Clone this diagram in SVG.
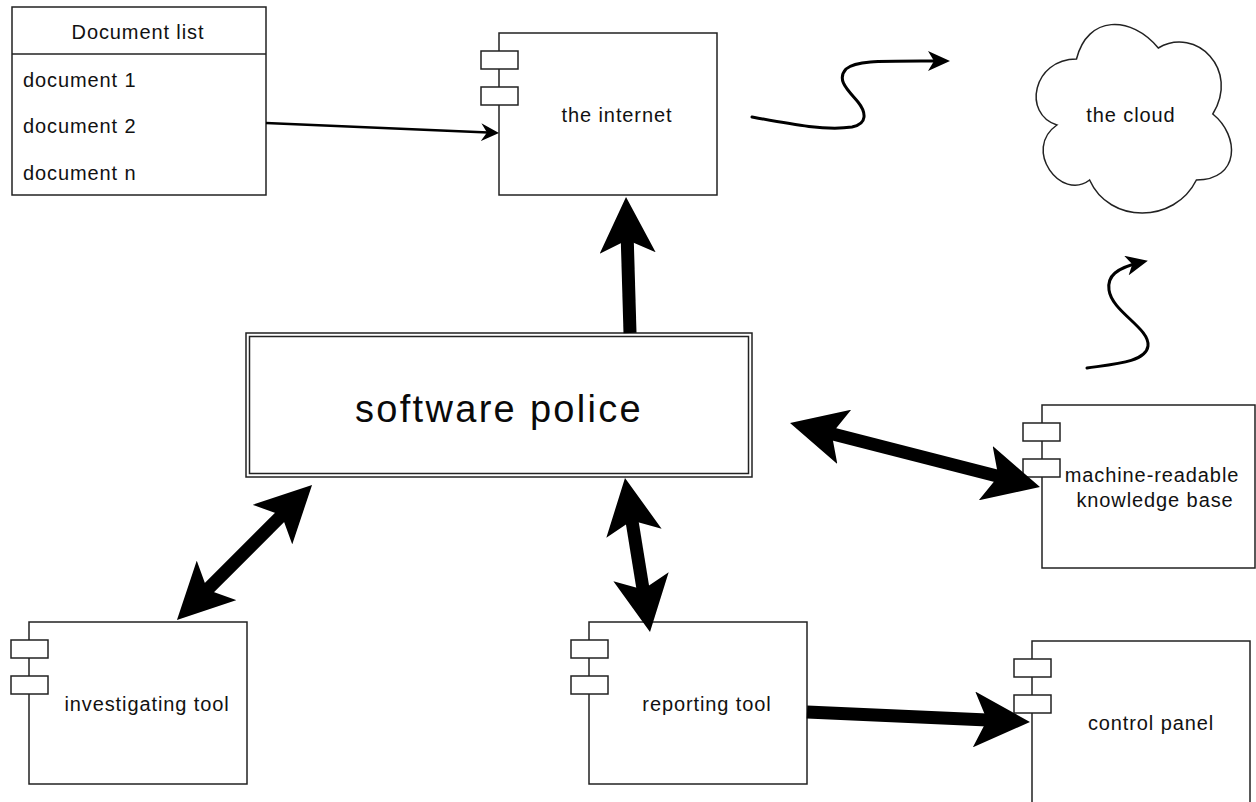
<svg xmlns="http://www.w3.org/2000/svg" width="1256" height="802" viewBox="0 0 1256 802">
  <style>
    .box { fill: #ffffff; stroke: #222222; stroke-width: 1.5; }
    .port { fill: #ffffff; stroke: #222222; stroke-width: 1.5; }
    .lbl { font-family: "Liberation Sans", Arial, sans-serif; font-size: 20px; fill: #111111; letter-spacing: 0.9px; }
    .mid { text-anchor: middle; }
    .big { font-family: "Liberation Sans", Arial, sans-serif; font-size: 38px; fill: #0a0a0a; letter-spacing: 2.3px; text-anchor: middle; }
    .thick { fill: none; stroke: #000000; stroke-width: 13; }
    .thin { fill: none; stroke: #000000; stroke-width: 2.5; }
    .wave { fill: none; stroke: #000000; stroke-width: 3; stroke-linecap: round; }
  </style>
  <defs>
    <marker id="bigHead" viewBox="0 0 56 56" refX="36" refY="28" markerWidth="56" markerHeight="56" markerUnits="userSpaceOnUse" orient="auto-start-reverse">
      <path d="M56,28 L0,0 L13,28 L0,56 Z" fill="#000000"/>
    </marker>
    <marker id="smallHead" viewBox="0 0 18 18" refX="13" refY="9" markerWidth="18" markerHeight="18" markerUnits="userSpaceOnUse" orient="auto">
      <path d="M18,9 L0,0 L6,9 L0,18 Z" fill="#000000"/>
    </marker>
    <marker id="waveHead" viewBox="0 0 22 20" refX="16" refY="10" markerWidth="22" markerHeight="20" markerUnits="userSpaceOnUse" orient="auto">
      <path d="M22,10 L0,0 L6,10 L0,20 Z" fill="#000000"/>
    </marker>
  </defs>

  <rect width="1256" height="802" fill="#ffffff"/>

  <!-- document list -->
  <g id="document-list">
    <rect class="box" x="12" y="7" width="254" height="188"/>
    <line x1="12" y1="54" x2="266" y2="54" stroke="#222222" stroke-width="1.5"/>
    <text class="lbl mid" x="138" y="39">Document list</text>
    <text class="lbl" x="23" y="87">document 1</text>
    <text class="lbl" x="23" y="133">document 2</text>
    <text class="lbl" x="23" y="180">document n</text>
  </g>

  <!-- the internet -->
  <g id="the-internet">
    <rect class="box" x="499" y="33" width="218" height="162"/>
    <rect class="port" x="481" y="51" width="37" height="18"/>
    <rect class="port" x="481" y="87" width="37" height="18"/>
    <text class="lbl mid" x="617" y="122">the internet</text>
  </g>

  <!-- the cloud -->
  <g id="the-cloud">
    <path class="box" d="M1076.5,59 C1032.9,59 1022,114 1056.9,125 C1022,149.2 1061.2,202 1089.6,180 C1109.2,224 1174.6,224 1196.4,180 C1240,180 1240,136 1212.8,114 C1240,70 1196.4,26 1158.3,48 C1131,15 1087.4,15 1076.5,59 Z"/>
    <text class="lbl mid" x="1131" y="122">the cloud</text>
  </g>

  <!-- software police -->
  <g id="software-police">
    <rect class="box" x="246" y="333" width="506" height="144"/>
    <rect class="box" x="249.5" y="336.5" width="499" height="137" fill="none"/>
    <text class="big" x="499" y="422">software police</text>
  </g>

  <!-- machine-readable knowledge base -->
  <g id="knowledge-base">
    <rect class="box" x="1042" y="405" width="213" height="163"/>
    <rect class="port" x="1023" y="423" width="37" height="18"/>
    <rect class="port" x="1023" y="459" width="37" height="18"/>
    <text class="lbl mid" x="1152" y="482">machine-readable</text>
    <text class="lbl mid" x="1155" y="507">knowledge base</text>
  </g>

  <!-- investigating tool -->
  <g id="investigating-tool">
    <rect class="box" x="29" y="622" width="218" height="162"/>
    <rect class="port" x="11" y="640" width="37" height="18"/>
    <rect class="port" x="11" y="676" width="37" height="18"/>
    <text class="lbl mid" x="147" y="711">investigating tool</text>
  </g>

  <!-- reporting tool -->
  <g id="reporting-tool">
    <rect class="box" x="589" y="622" width="218" height="162"/>
    <rect class="port" x="571" y="640" width="37" height="18"/>
    <rect class="port" x="571" y="676" width="37" height="18"/>
    <text class="lbl mid" x="707" y="711">reporting tool</text>
  </g>

  <!-- control panel -->
  <g id="control-panel">
    <rect class="box" x="1032" y="641" width="218" height="162"/>
    <rect class="port" x="1014" y="659" width="37" height="18"/>
    <rect class="port" x="1014" y="695" width="37" height="18"/>
    <text class="lbl mid" x="1151" y="730">control panel</text>
  </g>

  <!-- connectors -->
  <g id="connectors">
    <path class="thin" d="M266,123 L494,132.8" marker-end="url(#smallHead)"/>
    <path class="wave" d="M752,117 C790,124 825,131 852,127 C868,124 866,112 858,102 C848,90 836,80 846,69 C856,60 880,61 944,61" marker-end="url(#waveHead)"/>
    <path class="wave" d="M1087,368 C1115,364 1146,362 1148,346 C1150,328 1112,312 1109,290 C1107,276 1116,268 1142,262" marker-end="url(#waveHead)"/>
    <path class="thick" d="M630,333 L626.6,217" marker-end="url(#bigHead)"/>
    <path class="thick" d="M297.9,499.1 L191.1,605.9" marker-start="url(#bigHead)" marker-end="url(#bigHead)"/>
    <path class="thick" d="M628.2,497.7 L646.8,612.3" marker-start="url(#bigHead)" marker-end="url(#bigHead)"/>
    <path class="thick" d="M809.4,428 L1020.6,482" marker-start="url(#bigHead)" marker-end="url(#bigHead)"/>
    <path class="thick" d="M807,712 L1010,721.1" marker-end="url(#bigHead)"/>
  </g>
</svg>
